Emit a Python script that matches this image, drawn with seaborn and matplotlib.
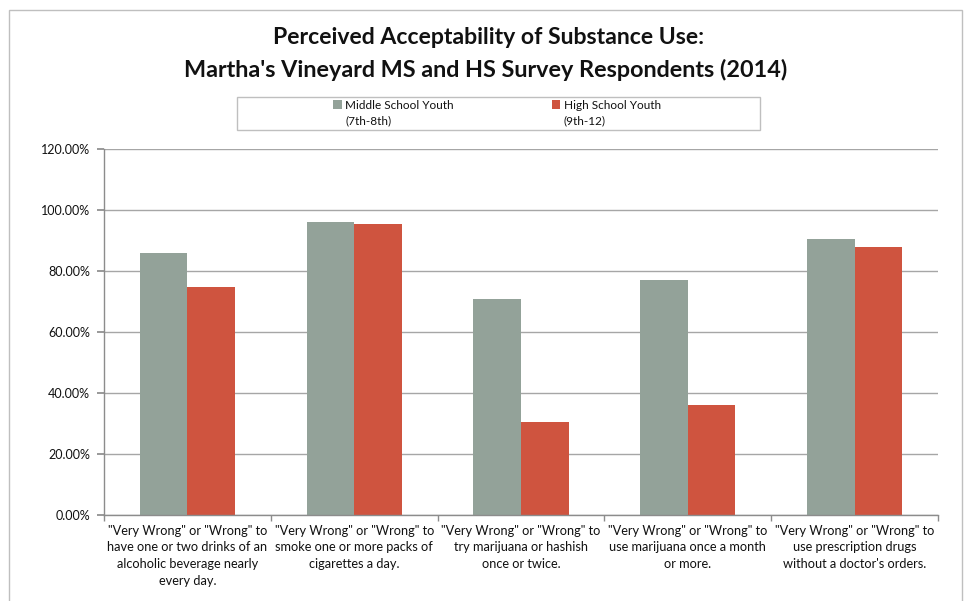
import matplotlib
matplotlib.use("Agg")
import matplotlib.pyplot as plt
import seaborn as sns
import pandas as pd
from matplotlib.patches import Rectangle, Patch
from matplotlib.legend_handler import HandlerPatch
from matplotlib.ticker import FuncFormatter, FixedLocator

# Survey results (% of respondents)
categories = [
    "\"Very Wrong\" or \"Wrong\" to\nhave one or two drinks of an\nalcoholic beverage nearly\nevery day.",
    "\"Very Wrong\" or \"Wrong\" to\nsmoke one or more packs of\ncigarettes a day.",
    "\"Very Wrong\" or \"Wrong\" to\ntry marijuana or hashish\nonce or twice.",
    "\"Very Wrong\" or \"Wrong\" to\nuse marijuana once a month\nor more.",
    "\"Very Wrong\" or \"Wrong\" to\nuse prescription drugs\nwithout a doctor's orders.",
]
middle_school = [85.8, 96.2, 70.9, 77.0, 90.6]
high_school = [74.7, 95.4, 30.6, 36.0, 88.0]
series_names = ["Middle School Youth\n(7th-8th)", "High School Youth\n(9th-12)"]
y_ticks = [0, 20, 40, 60, 80, 100, 120]

colors = ["#93A299", "#CF543F"]

df = pd.DataFrame({
    "category": categories * 2,
    "group": [series_names[0]] * len(categories) + [series_names[1]] * len(categories),
    "value": middle_school + high_school,
})

sns.set_theme(style="white")
plt.rcParams["font.family"] = ["Lato", "DejaVu Sans"]

fig = plt.figure(figsize=(9.65, 6.01), dpi=100)
ax = fig.add_axes([104 / 965, 1 - 515 / 601, (938 - 104) / 965, (515 - 149) / 601])

sns.barplot(data=df, x="category", y="value", hue="group", palette=colors,
            width=0.57, ax=ax, legend=False, saturation=1, edgecolor="none")

ax.set_ylim(0, 120)
ax.set_xlim(-0.5, len(categories) - 0.5)
ax.yaxis.set_major_locator(FixedLocator(y_ticks))
ax.yaxis.set_major_formatter(FuncFormatter(lambda v, _: f"{v:.2f}%"))
ax.grid(axis="y", color="#a6a6a6", linewidth=1.0)
ax.set_axisbelow(True)

for side in ["top", "right"]:
    ax.spines[side].set_visible(False)
for side in ["left", "bottom"]:
    ax.spines[side].set_color("#8c8c8c")
    ax.spines[side].set_linewidth(1.0)

# category labels centred under each pair, tick marks at the category boundaries
ax.set_xticks(range(len(categories)))
ax.set_xticklabels(categories, fontsize=9.2, color="#111111", linespacing=1.46)
ax.tick_params(axis="x", length=0, pad=7)
ax.set_xticks([i - 0.5 for i in range(len(categories) + 1)], minor=True)
ax.tick_params(axis="x", which="minor", length=4, color="#8c8c8c", direction="out", bottom=True)
ax.tick_params(axis="y", length=5, color="#8c8c8c", direction="out", left=True, labelsize=9,
               labelcolor="#111111", pad=5)
ax.set_xlabel("")
ax.set_ylabel("")

# chart title
fig.text(489 / 965, 1 - 38 / 601, "Perceived Acceptability of Substance Use:",
         ha="center", va="center", fontsize=16.6, fontweight="bold", color="#111111")
fig.text(486 / 965, 1 - 70 / 601, "Martha's Vineyard MS and HS Survey Respondents (2014)",
         ha="center", va="center", fontsize=16.8, fontweight="bold", color="#111111")

# legend box
fig.patches.append(Rectangle((237 / 965, 1 - 130 / 601), (760 - 237) / 965, 33 / 601,
                             transform=fig.transFigure, fill=False, edgecolor="#bfbfbf",
                             linewidth=1.0))


def raised_square(legend, orig_handle, xdescent, ydescent, width, height, fontsize):
    # keep the swatch level with the first line of a two-line label
    return Rectangle((-xdescent, -ydescent + 0.8 * fontsize), width, height)


handles = [Patch(facecolor=c, edgecolor="none") for c in colors]
leg = fig.legend(handles, series_names, loc="center", bbox_to_anchor=(497 / 965, 1 - 113.5 / 601),
                 ncol=2, frameon=False, fontsize=8.5, handlelength=0.7, handleheight=0.7,
                 handletextpad=0.3, columnspacing=8.3, labelcolor="#111111",
                 handler_map={Patch: HandlerPatch(patch_func=raised_square)})
for t in leg.get_texts():
    t.set_linespacing(1.45)

# outer chart border
fig.patches.append(Rectangle((9 / 965, -0.02), (962 - 9) / 965, 1.02 - 10 / 601,
                             transform=fig.transFigure, fill=False, edgecolor="#bfbfbf",
                             linewidth=1.0))

fig.savefig("out.png", dpi=100)
